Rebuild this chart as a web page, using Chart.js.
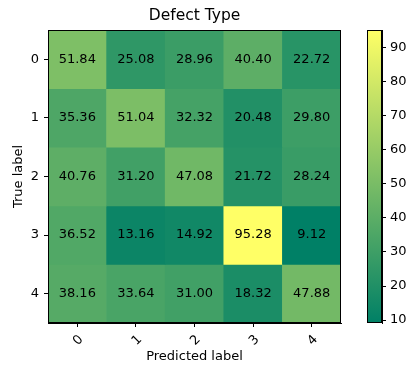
<!DOCTYPE html>
<html lang="en">
<head>
<meta charset="UTF-8">
<title>Defect Type</title>
<script src="https://cdn.jsdelivr.net/npm/chart.js"></script>
<style>
    body{
        margin:0;
        background:#fff;
    }
    #wrap{
        position:relative;
        width:408px;
        height:365px;
    }
    #wrap canvas{
        position:absolute;
        top:0;
    }
    #matrix{ left:0; }
    #cbar{ left:360px; }
</style>
</head>
<body>
<div id="wrap">
    <canvas id="matrix" width="408" height="365"></canvas>
    <canvas id="cbar" width="48" height="365"></canvas>
</div>
<script>
const trueLabels = ["0", "1", "2", "3", "4"];
const predLabels = ["0", "1", "2", "3", "4"];
const row0 = [51.84, 25.08, 28.96, 40.40, 22.72];
const row1 = [35.36, 51.04, 32.32, 20.48, 29.80];
const row2 = [40.76, 31.20, 47.08, 21.72, 28.24];
const row3 = [36.52, 13.16, 14.92, 95.28, 9.12];
const row4 = [38.16, 33.64, 31.00, 18.32, 47.88];
const rows = [row0, row1, row2, row3, row4];
const cbarTicks = [10, 20, 30, 40, 50, 60, 70, 80, 90];

const vmin = Math.min(...rows.flat());
const vmax = Math.max(...rows.flat());

// matplotlib "summer": r = t, g = 0.5 + 0.5t, b = 0.4
function summer(v){
    const t = (v - vmin) / (vmax - vmin);
    const r = Math.round(255 * t);
    const g = Math.round(255 * (0.5 + 0.5 * t));
    return `rgb(${r},${g},102)`;
}

const font = {family: "DejaVu Sans", size: 13};

// black frame round the plot area
const frame = {
    id: "frame",
    afterDraw(chart){
        const a = chart.chartArea, c = chart.ctx;
        c.save();
        c.strokeStyle = "#000";
        c.lineWidth = 1;
        c.strokeRect(Math.round(a.left) + 0.5, Math.round(a.top) + 0.5,
            Math.round(a.right - a.left) - 1, Math.round(a.bottom - a.top) - 1);
        c.restore();
    }
};

// value written in the middle of each cell
const cellText = {
    id: "cellText",
    afterDatasetsDraw(chart){
        const c = chart.ctx;
        c.save();
        c.font = "13px 'DejaVu Sans'";
        c.fillStyle = "#000";
        c.textAlign = "center";
        c.textBaseline = "middle";
        chart.data.datasets.forEach((ds, i) => {
            chart.getDatasetMeta(i).data.forEach((bar, j) => {
                const p = bar.getCenterPoint();
                c.fillText(rows[i][j].toFixed(2), p.x, p.y);
            });
        });
        c.restore();
    }
};

new Chart(document.getElementById("matrix"), {
    type: "bar",
    data: {
        labels: predLabels,
        datasets: rows.map((row, i) => ({
            label: trueLabels[i],
            data: row.map(() => [i - 0.5, i + 0.5]),
            backgroundColor: row.map(summer),
            borderWidth: 0,
            grouped: false,
            barPercentage: 1,
            categoryPercentage: 1
        }))
    },
    options: {
        responsive: false,
        animation: false,
        layout: {padding: {left: 0, right: 67, top: 0, bottom: 0}},
        plugins: {
            legend: {display: false},
            tooltip: {enabled: false},
            title: {
                display: true,
                text: "Defect Type",
                color: "#000",
                fullSize: false,
                font: {family: "DejaVu Sans", size: 15.5, weight: "normal"},
                padding: {top: 7, bottom: 4.4}
            }
        },
        scales: {
            x: {
                type: "category",
                offset: true,
                grid: {offset: false, drawOnChartArea: false, drawTicks: true, tickLength: 4, color: "#000"},
                border: {display: true, color: "#000"},
                ticks: {color: "#000", font: font, minRotation: 45, maxRotation: 45, padding: 5, labelOffset: 4},
                title: {display: true, text: "Predicted label", color: "#000", font: font, padding: {top: 0, bottom: 1}},
                afterFit(s){ s.height = 42; }
            },
            y: {
                type: "linear",
                min: -0.5,
                max: 4.5,
                reverse: true,
                grid: {drawOnChartArea: false, drawTicks: true, tickLength: 4, color: "#000"},
                border: {display: true, color: "#000"},
                afterBuildTicks(s){ s.ticks = trueLabels.map((t, i) => ({value: i})); },
                ticks: {color: "#000", font: font, padding: 5, callback: v => trueLabels[v]},
                title: {display: true, text: "True label", color: "#000", font: font, padding: {top: 11, bottom: 0}},
                afterFit(s){ s.width = 48; }
            }
        }
    },
    plugins: [cellText, frame]
});

// colour bar
new Chart(document.getElementById("cbar"), {
    type: "bar",
    data: {
        labels: [""],
        datasets: [{
            data: [[vmin, vmax]],
            backgroundColor(ctx){
                const a = ctx.chart.chartArea;
                if(!a) return summer(vmin);
                const g = ctx.chart.ctx.createLinearGradient(0, a.bottom, 0, a.top);
                g.addColorStop(0, summer(vmin));
                g.addColorStop(1, summer(vmax));
                return g;
            },
            borderWidth: 0,
            barPercentage: 1,
            categoryPercentage: 1
        }]
    },
    options: {
        responsive: false,
        animation: false,
        layout: {padding: {left: 7, right: 0, top: 30, bottom: 42}},
        plugins: {legend: {display: false}, tooltip: {enabled: false}},
        scales: {
            x: {display: false},
            y: {
                position: "right",
                min: vmin,
                max: vmax,
                grid: {drawOnChartArea: false, drawTicks: true, tickLength: 4, color: "#000"},
                border: {display: true, color: "#000"},
                afterBuildTicks(s){ s.ticks = cbarTicks.map(v => ({value: v})); },
                ticks: {color: "#000", font: font, padding: 4},
                afterFit(s){ s.width = 26; }
            }
        }
    },
    plugins: [frame]
});
</script>
</body>
</html>
